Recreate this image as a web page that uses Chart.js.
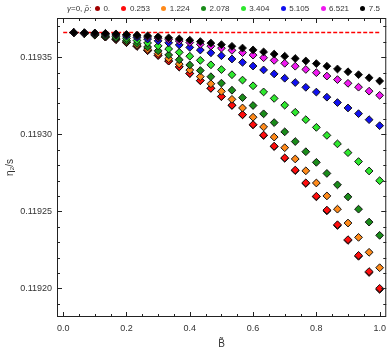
<!DOCTYPE html>
<html>
<head>
<meta charset="utf-8">
<script src="https://cdn.jsdelivr.net/npm/chart.js@4.4.1/dist/chart.umd.min.js"></script>
<style>
  html, body { margin: 0; padding: 0; background: #fff; }
  #wrap { position: relative; width: 392px; height: 354px; }
  #legend {
    position: absolute; top: 2px; left: 67px; height: 12px;
    font: 8px "Liberation Sans", Arial, sans-serif; color: #333;
    display: flex; align-items: center; white-space: nowrap;
  }
  .dot { display: inline-block; width: 5px; height: 5px; border-radius: 50%; margin: 0 3.5px 0 11.3px; }
  .dot.first { margin-left: 3.5px; }
</style>
</head>
<body>
<div id="wrap">
  <canvas id="chart" width="392" height="354"></canvas>
  <div id="legend"></div>
</div>
<script>
// x values (B tilde)
const bTilde = [0.0333, 0.0667, 0.1, 0.1333, 0.1667, 0.2, 0.2333, 0.2667, 0.3, 0.3333,
  0.3667, 0.4, 0.4333, 0.4667, 0.5, 0.5333, 0.5667, 0.6, 0.6333, 0.6667,
  0.7, 0.7333, 0.7667, 0.8, 0.8333, 0.8667, 0.9, 0.9333, 0.9667, 1.0];

const rhoLabels = ["0.", "0.253", "1.224", "2.078", "3.404", "5.105", "6.521", "7.5"];
const rhoColors = ["#a00000", "#ff0d0d", "#ff8a1a", "#1a8c1a", "#2ee82e", "#1010f0", "#f018f0", "#000000"];

// eta/s at B = 0
const etaZero = 0.1193661;

const etaRho0 = [0.1193659, 0.1193654, 0.1193644, 0.1193631, 0.1193615, 0.1193595, 0.1193571, 0.1193543, 0.1193512, 0.1193475,
  0.1193437, 0.1193394, 0.1193348, 0.1193298, 0.1193244, 0.1193187, 0.1193126, 0.1193061, 0.1192992, 0.1192920,
  0.1192844, 0.1192764, 0.1192681, 0.1192594, 0.1192503, 0.1192408, 0.1192311, 0.1192208, 0.1192103, 0.1191993];
const etaRho0253 = [0.1193659, 0.1193654, 0.1193644, 0.1193631, 0.1193615, 0.1193595, 0.1193571, 0.1193543, 0.1193512, 0.1193476,
  0.1193438, 0.1193395, 0.1193349, 0.1193299, 0.1193246, 0.1193189, 0.1193128, 0.1193063, 0.1192995, 0.1192923,
  0.1192847, 0.1192768, 0.1192685, 0.1192598, 0.1192508, 0.1192413, 0.1192316, 0.1192214, 0.1192109, 0.1192000];
const etaRho1224 = [0.1193659, 0.1193654, 0.1193646, 0.1193634, 0.1193619, 0.1193600, 0.1193578, 0.1193552, 0.1193524, 0.1193491,
  0.1193456, 0.1193417, 0.1193374, 0.1193328, 0.1193279, 0.1193227, 0.1193171, 0.1193111, 0.1193048, 0.1192982,
  0.1192913, 0.1192840, 0.1192763, 0.1192684, 0.1192600, 0.1192514, 0.1192424, 0.1192331, 0.1192234, 0.1192134];
const etaRho2078 = [0.1193660, 0.1193655, 0.1193648, 0.1193638, 0.1193624, 0.1193608, 0.1193589, 0.1193567, 0.1193542, 0.1193515,
  0.1193484, 0.1193450, 0.1193414, 0.1193374, 0.1193332, 0.1193286, 0.1193238, 0.1193187, 0.1193133, 0.1193076,
  0.1193016, 0.1192953, 0.1192887, 0.1192818, 0.1192746, 0.1192672, 0.1192594, 0.1192514, 0.1192430, 0.1192344];
const etaRho3404 = [0.1193660, 0.1193657, 0.1193651, 0.1193644, 0.1193634, 0.1193623, 0.1193609, 0.1193593, 0.1193574, 0.1193554,
  0.1193532, 0.1193507, 0.1193480, 0.1193451, 0.1193420, 0.1193387, 0.1193352, 0.1193315, 0.1193275, 0.1193233,
  0.1193189, 0.1193143, 0.1193095, 0.1193045, 0.1192993, 0.1192938, 0.1192881, 0.1192823, 0.1192762, 0.1192699];
const etaRho5105 = [0.1193660, 0.1193658, 0.1193655, 0.1193650, 0.1193644, 0.1193637, 0.1193628, 0.1193618, 0.1193607, 0.1193594,
  0.1193580, 0.1193564, 0.1193547, 0.1193529, 0.1193510, 0.1193489, 0.1193467, 0.1193443, 0.1193418, 0.1193392,
  0.1193364, 0.1193336, 0.1193305, 0.1193274, 0.1193241, 0.1193206, 0.1193171, 0.1193134, 0.1193095, 0.1193056];
const etaRho6521 = [0.1193661, 0.1193659, 0.1193657, 0.1193654, 0.1193650, 0.1193645, 0.1193639, 0.1193632, 0.1193624, 0.1193616,
  0.1193606, 0.1193596, 0.1193584, 0.1193572, 0.1193559, 0.1193545, 0.1193530, 0.1193514, 0.1193497, 0.1193480,
  0.1193461, 0.1193442, 0.1193421, 0.1193400, 0.1193378, 0.1193355, 0.1193331, 0.1193306, 0.1193280, 0.1193253];
const etaRho75 = [0.1193661, 0.1193660, 0.1193658, 0.1193655, 0.1193652, 0.1193648, 0.1193644, 0.1193639, 0.1193633, 0.1193626,
  0.1193619, 0.1193611, 0.1193602, 0.1193592, 0.1193582, 0.1193571, 0.1193560, 0.1193548, 0.1193535, 0.1193521,
  0.1193507, 0.1193492, 0.1193476, 0.1193459, 0.1193442, 0.1193424, 0.1193406, 0.1193387, 0.1193367, 0.1193346];

const allSeries = [etaRho0, etaRho0253, etaRho1224, etaRho2078, etaRho3404, etaRho5105, etaRho6521, etaRho75];

// frame ticks
const xMajorTicks = [0, 0.2, 0.4, 0.6, 0.8, 1.0];
const xMinorTicks = [0.05, 0.1, 0.15, 0.25, 0.3, 0.35, 0.45, 0.5, 0.55, 0.65, 0.7, 0.75, 0.85, 0.9, 0.95];
const yMajorTicks = [0.1192, 0.11925, 0.1193, 0.11935];
const yMinorTicks = [0.11919, 0.11921, 0.11922, 0.11923, 0.11924, 0.11926, 0.11927, 0.11928, 0.11929,
  0.11931, 0.11932, 0.11933, 0.11934, 0.11936, 0.11937];

// legend
const legend = document.getElementById("legend");
legend.innerHTML = '<span><i>γ</i>=0, <i>ρ̃</i>:</span>';
rhoLabels.forEach((lab, i) => {
  legend.innerHTML += `<span class="dot${i === 0 ? " first" : ""}" style="background:${rhoColors[i]}"></span><span>${lab}</span>`;
});

const frameTicks = {
  id: "frameTicks",
  afterDraw(chart) {
    const { ctx, chartArea: a, scales: { x, y } } = chart;
    ctx.save();
    ctx.strokeStyle = "#222";
    ctx.lineWidth = 1;
    ctx.strokeRect(a.left + 0.5, a.top + 0.5, a.right - a.left - 1, a.bottom - a.top - 1);
    ctx.beginPath();
    const xt = (v, len) => {
      const px = Math.round(x.getPixelForValue(v)) + 0.5;
      ctx.moveTo(px, a.bottom); ctx.lineTo(px, a.bottom - len);
      ctx.moveTo(px, a.top); ctx.lineTo(px, a.top + len);
    };
    const yt = (v, len) => {
      const py = Math.round(y.getPixelForValue(v)) + 0.5;
      ctx.moveTo(a.left, py); ctx.lineTo(a.left + len, py);
      ctx.moveTo(a.right, py); ctx.lineTo(a.right - len, py);
    };
    xMajorTicks.forEach(v => xt(v, 5));
    xMinorTicks.forEach(v => xt(v, 3));
    yMajorTicks.forEach(v => yt(v, 5));
    yMinorTicks.forEach(v => yt(v, 3));
    ctx.stroke();
    ctx.restore();
  }
};

const datasets = allSeries.map((vals, i) => ({
  label: rhoLabels[i],
  data: bTilde.map((b, k) => ({ x: b, y: vals[k] })),
  pointStyle: "rectRot",
  pointRadius: 3.9,
  pointBackgroundColor: rhoColors[i],
  pointBorderColor: "#111",
  pointBorderWidth: 1,
  showLine: false,
  order: allSeries.length - i
}));
datasets.push({
  type: "line",
  label: "B=0",
  data: [{ x: 0, y: etaZero }, { x: 1, y: etaZero }],
  borderColor: "#ff0000",
  borderWidth: 1.3,
  borderDash: [4, 2],
  pointRadius: 0,
  order: 100
});

const tickFont = { family: "'Liberation Sans', Arial, sans-serif", size: 9 };

new Chart(document.getElementById("chart"), {
  type: "scatter",
  data: { datasets },
  options: {
    responsive: false,
    animation: false,
    layout: { padding: { top: 18, right: 1, left: 0, bottom: 0 } },
    plugins: { legend: { display: false }, tooltip: { enabled: false } },
    scales: {
      x: {
        type: "linear",
        min: -0.0196,
        max: 1.0209,
        grid: { display: false, drawTicks: false },
        border: { display: false },
        afterBuildTicks: s => { s.ticks = xMajorTicks.map(v => ({ value: v })); },
        afterFit: s => { s.height = 37; },
        ticks: { color: "#333", font: tickFont, padding: 6, maxRotation: 0, autoSkip: false,
          callback: v => v.toFixed(1) },
        title: { display: true, text: "B̃", color: "#333",
          font: { family: "'Liberation Sans', Arial, sans-serif", size: 10 }, padding: { top: 0, bottom: 4 } }
      },
      y: {
        type: "linear",
        min: 0.1191814,
        max: 0.1193755,
        grid: { display: false, drawTicks: false },
        border: { display: false },
        afterBuildTicks: s => { s.ticks = yMajorTicks.map(v => ({ value: v })); },
        afterFit: s => { s.width = 57; },
        ticks: { color: "#333", font: tickFont, padding: 5, autoSkip: false,
          callback: v => v.toFixed(5) },
        title: { display: true, text: "η₂/s", color: "#333",
          font: { family: "'Liberation Sans', Arial, sans-serif", size: 10 }, padding: { top: 4, bottom: 0 } }
      }
    }
  },
  plugins: [frameTicks]
});
</script>
</body>
</html>
